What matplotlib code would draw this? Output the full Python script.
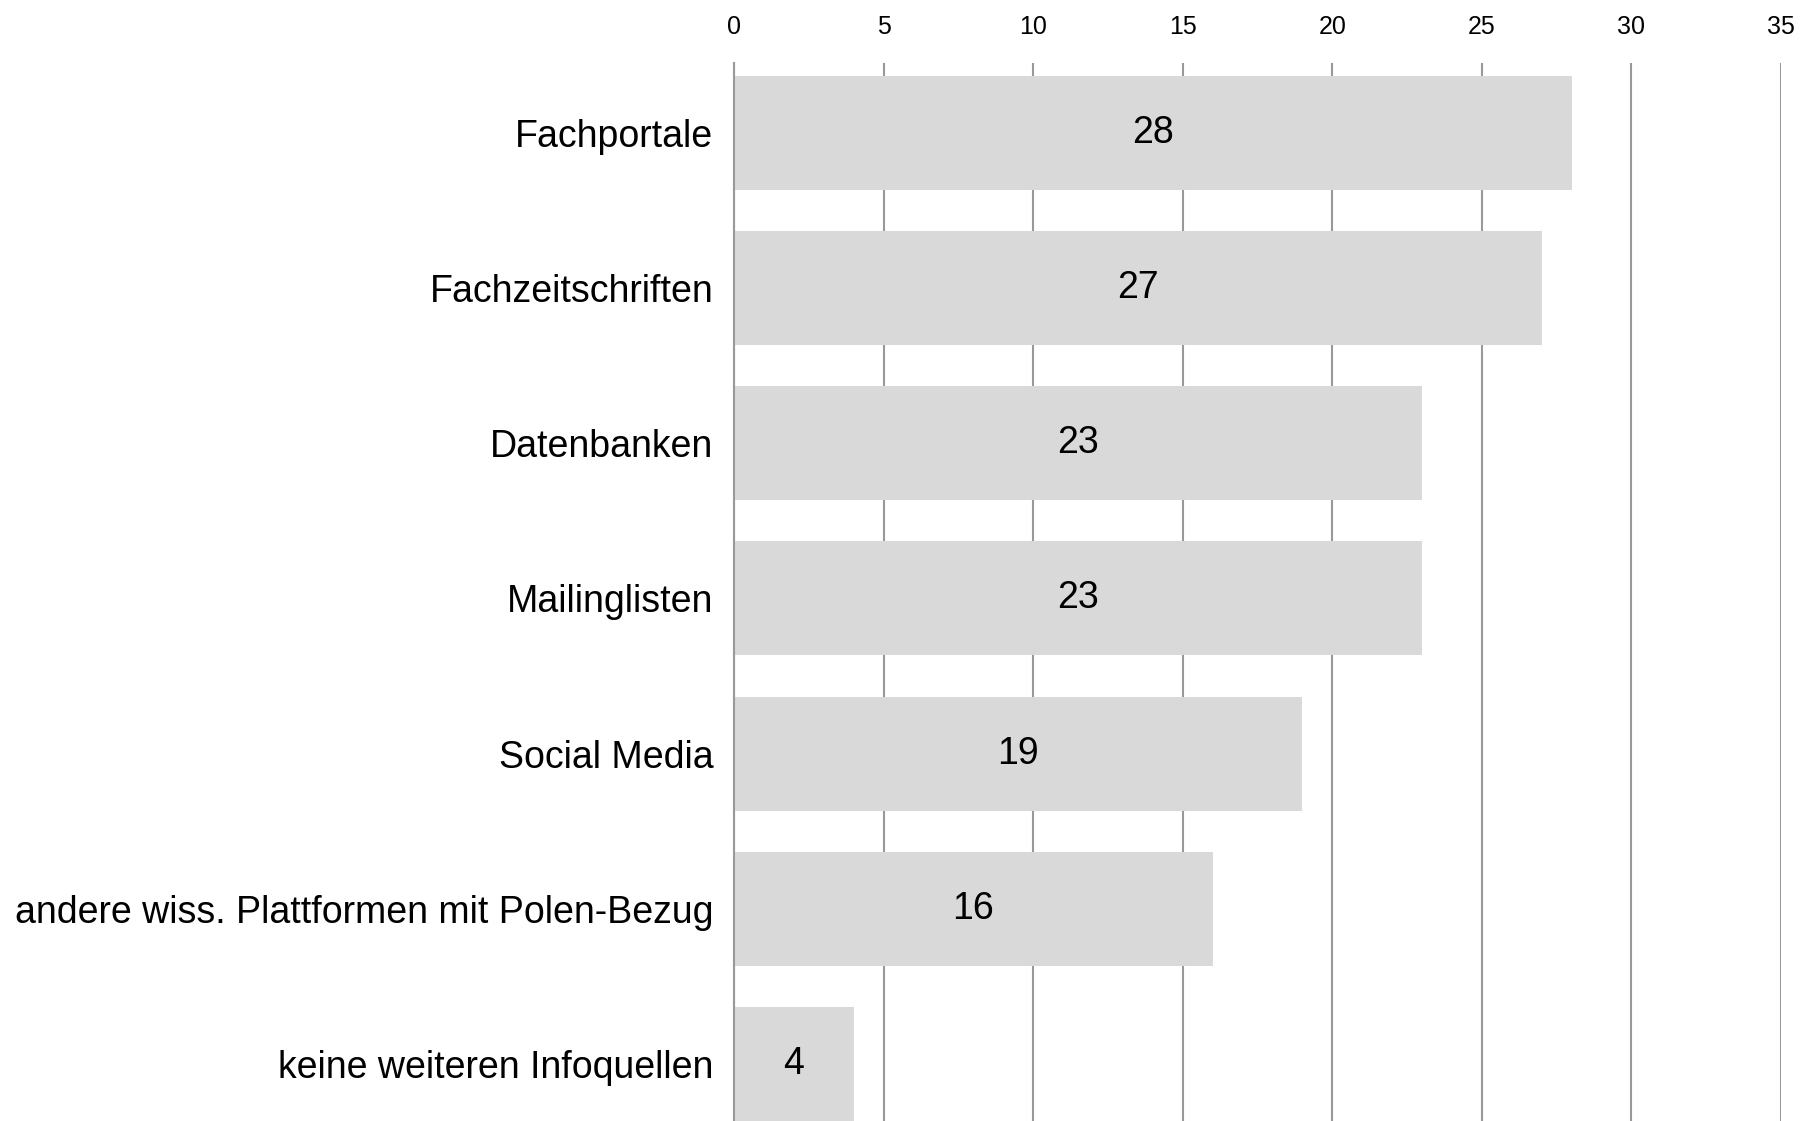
import matplotlib

matplotlib.use("Agg")
import matplotlib.pyplot as plt

categories = [
    "Fachportale",
    "Fachzeitschriften",
    "Datenbanken",
    "Mailinglisten",
    "Social Media",
    "andere wiss. Plattformen mit Polen-Bezug",
    "keine weiteren Infoquellen",
]
values = [28, 27, 23, 23, 19, 16, 4]
x_ticks = [0, 5, 10, 15, 20, 25, 30, 35]

plt.rcParams["font.family"] = ["Liberation Sans", "DejaVu Sans"]

fig = plt.figure(figsize=(18.03, 11.21), dpi=100)
ax = fig.add_axes([0.4071, 0.0, 0.5807, 0.9438])

positions = list(range(len(categories)))
ax.barh(positions, values, height=0.735, color="#d9d9d9", zorder=2)

for pos, val in zip(positions, values):
    ax.text(val / 2, pos, str(val), ha="center", va="center",
            fontsize=27, color="black", zorder=3)

ax.set_xlim(0, 35)
ax.set_ylim(6.367, -0.45)
ax.set_xticks(x_ticks)
ax.set_yticks(positions)
ax.set_yticklabels(categories)

ax.xaxis.tick_top()
ax.tick_params(axis="x", length=0, pad=17, labelsize=18, colors="black")
ax.tick_params(axis="y", length=0, pad=15, labelsize=27, colors="black")

ax.grid(axis="x", color="#999999", linewidth=1.5, zorder=1)
for side in ["top", "right", "bottom"]:
    ax.spines[side].set_visible(False)
ax.spines["left"].set_color("#999999")
ax.spines["left"].set_linewidth(1.5)
ax.spines["left"].set_zorder(4)

fig.savefig("out.png", dpi=100)
plt.close(fig)
